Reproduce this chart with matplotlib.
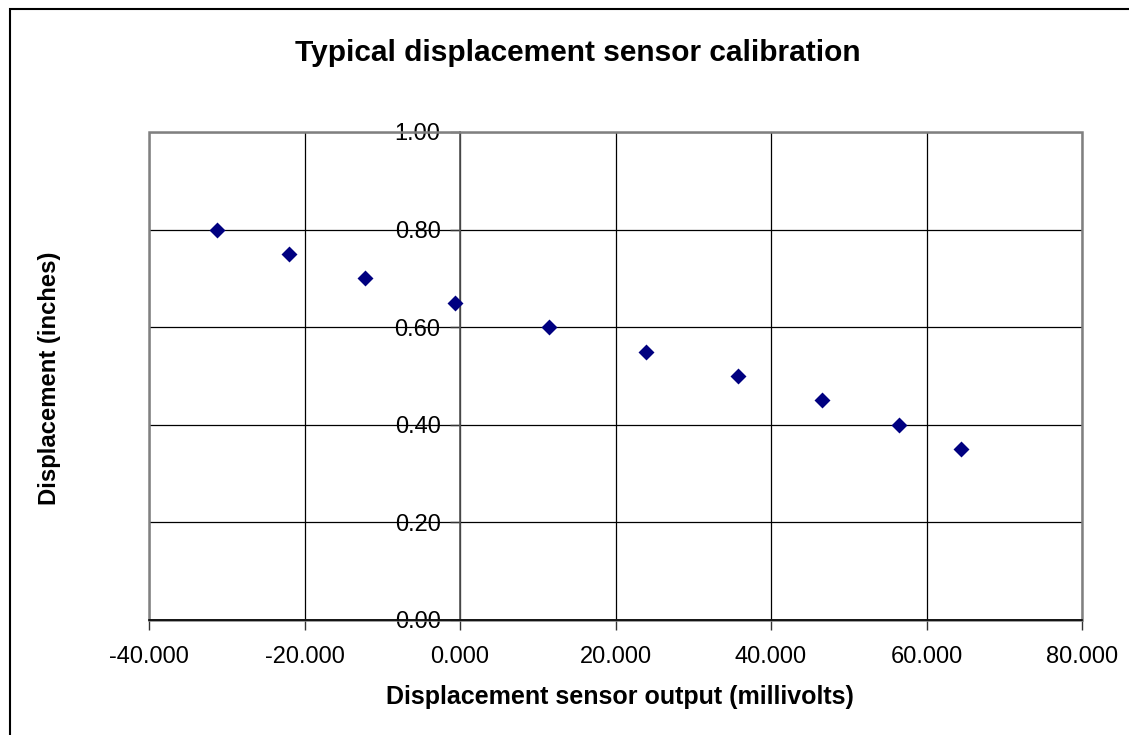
import matplotlib
matplotlib.use("Agg")
import matplotlib.pyplot as plt
from matplotlib.patches import Rectangle
from matplotlib.ticker import FormatStrFormatter

# calibration readings
sensor_mv = [-31.3, -22.0, -12.2, -0.6, 11.4, 23.9, 35.7, 46.5, 56.5, 64.5]
displacement_in = [0.80, 0.75, 0.70, 0.65, 0.60, 0.55, 0.50, 0.45, 0.40, 0.35]

x_ticks = [-40, -20, 0, 20, 40, 60, 80]
y_ticks = [0.0, 0.2, 0.4, 0.6, 0.8, 1.0]

plt.rcParams['font.family'] = ['Liberation Sans', 'DejaVu Sans']

fig = plt.figure(figsize=(11.29, 7.35), dpi=100)
ax = fig.add_axes([149 / 1129, 115 / 735, 933 / 1129, 488 / 735])

# chart area border (only left and top show in the picture)
fig.patches.append(Rectangle((10 / 1129, -0.1), 1.2, (735 - 9) / 735 + 0.1,
                             transform=fig.transFigure, fill=False,
                             edgecolor='black', lw=1.5))

ax.scatter(sensor_mv, displacement_in, marker='D', s=66, color='#000080',
           zorder=5, linewidths=0)

ax.set_xlim(x_ticks[0], x_ticks[-1])
ax.set_ylim(y_ticks[0], y_ticks[-1])
ax.set_xticks(x_ticks)
ax.set_yticks(y_ticks)
ax.xaxis.set_major_formatter(FormatStrFormatter('%.3f'))
ax.yaxis.set_major_formatter(FormatStrFormatter('%.2f'))

ax.grid(True, color='black', lw=0.9)
ax.set_axisbelow(True)

for side in ['top', 'right', 'bottom']:
    ax.spines[side].set_visible(False)
ax.spines['left'].set_position(('data', 0))
ax.spines['left'].set_color('#555555')
ax.spines['left'].set_linewidth(1.2)

# plot area frame
ax.add_patch(Rectangle((0, 0), 1, 1, transform=ax.transAxes, fill=False,
                       edgecolor='#808080', lw=1.8, zorder=3, clip_on=False))
ax.axhline(0, color='black', lw=1.2, zorder=4, clip_on=False)

ax.tick_params(axis='x', direction='out', length=7, width=1, pad=12,
               labelsize=17, color='#333333')
ax.tick_params(axis='y', direction='out', length=7, width=1, pad=7,
               labelsize=17, color='#333333')

fig.text(578 / 1129, (735 - 53) / 735, 'Typical displacement sensor calibration',
         fontsize=21.5, fontweight='bold', ha='center', va='center')
fig.text(620 / 1129, (735 - 697) / 735, 'Displacement sensor output (millivolts)',
         fontsize=18, fontweight='bold', ha='center', va='center')
fig.text(50 / 1129, (735 - 378) / 735, 'Displacement (inches)',
         fontsize=17.2, fontweight='bold', ha='center', va='center', rotation=90)

fig.savefig('out.png', dpi=100, facecolor='white')
